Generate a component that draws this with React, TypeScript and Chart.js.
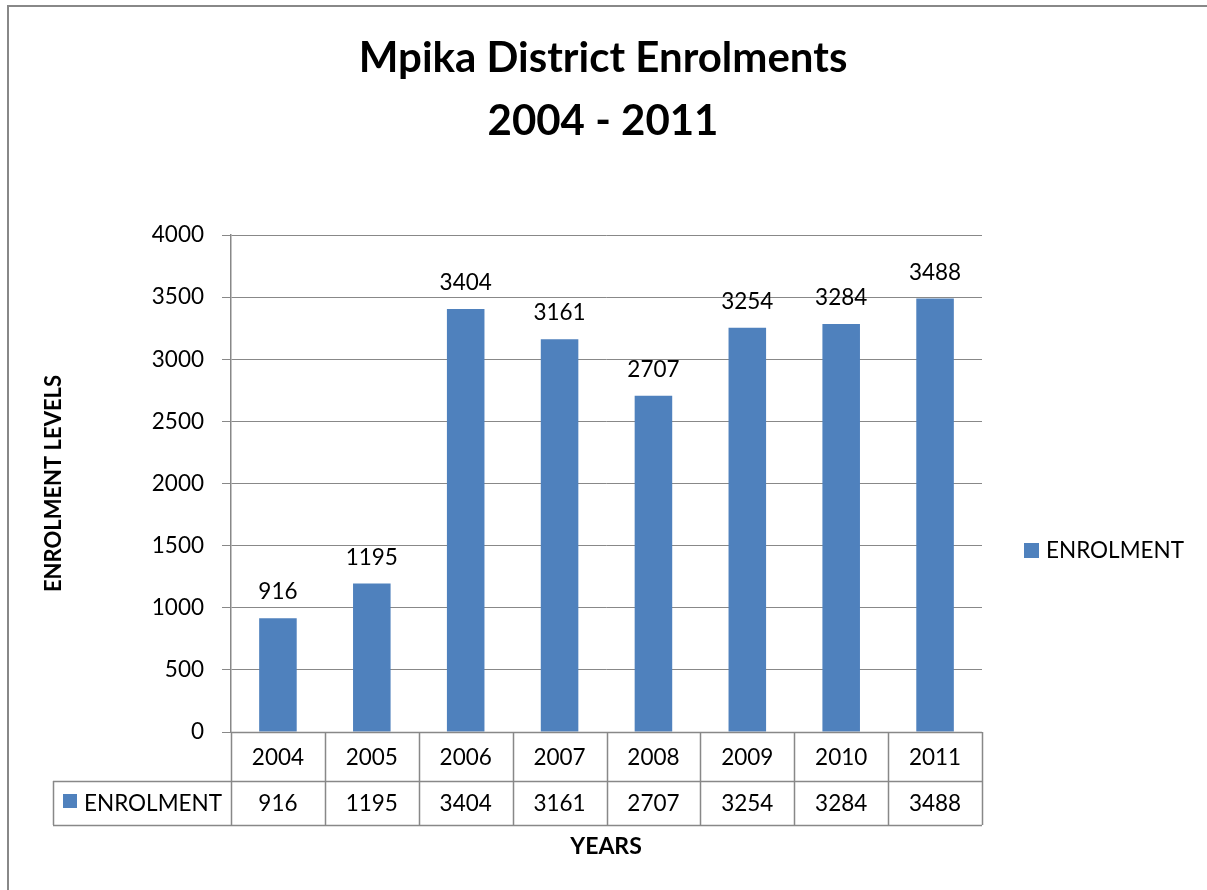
import React, { useEffect, useRef } from "react";
import { Chart, registerables } from "chart.js";

Chart.register(...registerables);

const categories = ["2004", "2005", "2006", "2007", "2008", "2009", "2010", "2011"];
const enrolment = [916, 1195, 3404, 3161, 2707, 3254, 3284, 3488];
const titleLines = ["Mpika District Enrolments", "2004 - 2011"];
const seriesName = "ENROLMENT";
const yAxisTitle = "ENROLMENT LEVELS";
const xAxisTitle = "YEARS";
const yMin = 0;
const yMax = 4000;
const yStep = 500;

const FONT = "Lato, 'Open Sans', sans-serif";
const BAR = "#4F81BD";
const LINE = "#888888";

const W = 1207;
const H = 890;

const decorPlugin = {
  id: "decor",
  afterDraw(chart: any) {
    const ctx = chart.ctx as CanvasRenderingContext2D;
    const area = chart.chartArea;
    const xs = chart.scales.x;
    const n = categories.length;
    const colW = (area.right - area.left) / n;
    const meta = chart.getDatasetMeta(0);
    ctx.save();

    // outer border
    ctx.strokeStyle = LINE;
    ctx.lineWidth = 2;
    ctx.strokeRect(8, 6, W + 20, H + 20);

    // title
    ctx.fillStyle = "#000";
    ctx.textAlign = "center";
    ctx.textBaseline = "alphabetic";
    ctx.font = `bold 42px ${FONT}`;
    ctx.fillText(titleLines[0], 603, 72);
    ctx.fillText(titleLines[1], 603, 135);

    // data labels
    ctx.font = `22.5px ${FONT}`;
    meta.data.forEach((bar: any, i: number) => {
      ctx.fillText(String(enrolment[i]), bar.x, bar.y - 19);
    });

    // data table
    const row1Top = area.bottom;
    const row1Bot = row1Top + 49;
    const row2Bot = row1Bot + 44;
    const tableLeft = 53;
    ctx.strokeStyle = LINE;
    ctx.lineWidth = 1.5;
    ctx.beginPath();
    for (let i = 0; i <= n; i++) {
      const x = Math.round(area.left + i * colW) + 0.5;
      ctx.moveTo(x, row1Top);
      ctx.lineTo(x, row2Bot);
    }
    ctx.moveTo(area.left, row1Top + 0.5);
    ctx.lineTo(area.right, row1Top + 0.5);
    ctx.moveTo(tableLeft, row1Bot + 0.5);
    ctx.lineTo(area.right, row1Bot + 0.5);
    ctx.moveTo(tableLeft, row2Bot + 0.5);
    ctx.lineTo(area.right, row2Bot + 0.5);
    ctx.moveTo(tableLeft + 0.5, row1Bot);
    ctx.lineTo(tableLeft + 0.5, row2Bot);
    ctx.stroke();

    ctx.fillStyle = "#000";
    ctx.font = `22.5px ${FONT}`;
    ctx.textBaseline = "middle";
    ctx.textAlign = "center";
    categories.forEach((c, i) => {
      const cx = xs.getPixelForValue(i);
      ctx.fillText(c, cx, (row1Top + row1Bot) / 2 + 1);
      ctx.fillText(String(enrolment[i]), cx, (row1Bot + row2Bot) / 2 + 1);
    });
    ctx.fillStyle = BAR;
    ctx.fillRect(63, 794, 14, 14);
    ctx.fillStyle = "#000";
    ctx.textAlign = "left";
    ctx.fillText(seriesName, 84, (row1Bot + row2Bot) / 2 + 1);

    // right legend
    ctx.fillStyle = BAR;
    ctx.fillRect(1024, 543, 15, 15);
    ctx.fillStyle = "#000";
    ctx.fillText(seriesName, 1046, 551);

    // axis titles
    ctx.font = `bold 23px ${FONT}`;
    ctx.textAlign = "center";
    ctx.fillText(xAxisTitle, 606, 847);
    ctx.font = `bold 22px ${FONT}`;
    ctx.translate(54, (area.top + area.bottom) / 2);
    ctx.rotate(-Math.PI / 2);
    ctx.fillText(yAxisTitle, 0, 0);

    ctx.restore();
  },
};

export default function App() {
  const ref = useRef<HTMLCanvasElement | null>(null);
  useEffect(() => {
    document.body.style.margin = "0";
    const canvas = ref.current;
    if (!canvas) return;
    const chart = new Chart(canvas, {
      type: "bar",
      data: {
        labels: categories,
        datasets: [
          {
            label: seriesName,
            data: enrolment,
            backgroundColor: BAR,
            borderWidth: 0,
            barPercentage: 0.4,
            categoryPercentage: 1,
          },
        ],
      },
      options: {
        responsive: false,
        animation: false,
        devicePixelRatio: 1,
        layout: { padding: { left: 111, top: 235, right: 225, bottom: 158 } },
        plugins: {
          legend: { display: false },
          title: { display: false },
          tooltip: { enabled: false },
        },
        scales: {
          x: { display: false },
          y: {
            min: yMin,
            max: yMax,
            ticks: {
              stepSize: yStep,
              padding: 18,
              color: "#000",
              font: { family: FONT, size: 22.5 },
              callback: (v: any) => String(v),
            },
            grid: { color: LINE, lineWidth: 1, tickLength: 9 },
            border: { display: true, color: LINE, width: 1.5 },
            afterFit: (scale: any) => {
              scale.width = 120;
            },
          },
        },
      },
      plugins: [decorPlugin],
    });
    return () => chart.destroy();
  }, []);
  return (
    <div style={{ width: W, height: H }}>
      <canvas ref={ref} width={W} height={H} style={{ display: "block" }} />
    </div>
  );
}
